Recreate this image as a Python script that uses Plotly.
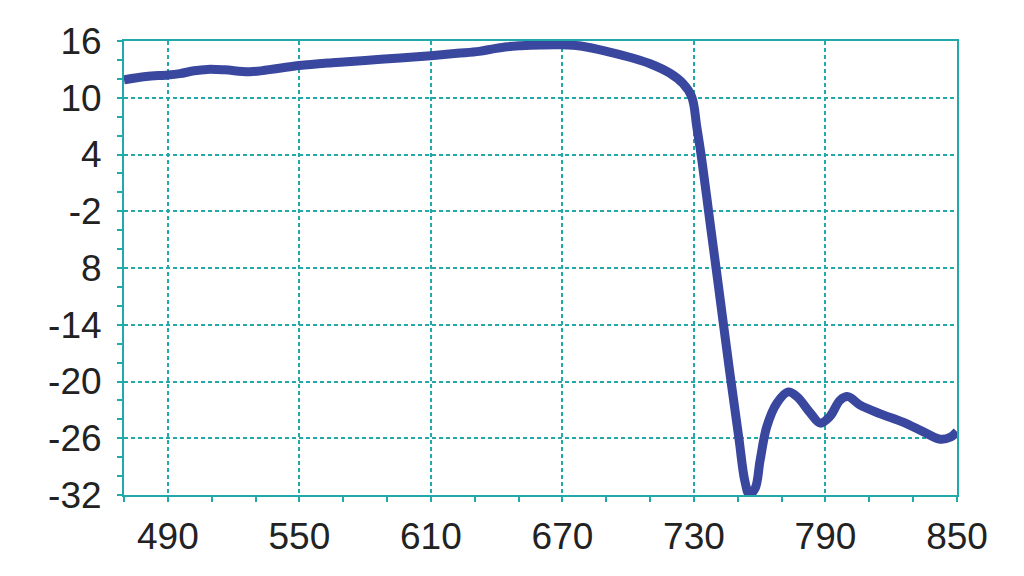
import plotly.graph_objects as go

# Data
wavelength = [470, 480, 490, 495.5, 502, 508, 516, 527.5, 540, 550, 565, 580, 596, 610, 622, 632,
              639, 645, 651, 660, 669, 679, 692, 702, 710, 719, 725, 729.0, 731.3, 733.6,
              737.4, 741.0, 746.5, 750.5, 753.2, 755.2, 757.9, 760.2, 763.2, 767.8,
              773, 777, 783, 787.6, 792, 796.7, 800.3, 805.8, 816, 825.4, 834.5, 842.3, 846.9, 850]
response = [11.9, 12.25, 12.4, 12.55, 12.85, 13.0, 12.95, 12.75, 13.1, 13.4, 13.7, 13.95, 14.2,
            14.45, 14.7, 14.9, 15.2, 15.4, 15.5, 15.58, 15.6, 15.45, 14.8, 14.2, 13.6, 12.6,
            11.5, 10.1, 6.9, 3.4, -3.3, -9.6, -19.3, -26.0, -30.5, -31.9, -31.3, -28.3, -24.8,
            -22.3, -21.1, -21.6, -23.3, -24.4, -23.7, -21.96, -21.6,
            -22.5, -23.5, -24.3, -25.3, -26.1, -25.9, -25.3]

x_ticks = [490, 550, 610, 670, 730, 790, 850]
x_labels = ["490", "550", "610", "670", "730", "790", "850"]
y_ticks = [16, 10, 4, -2, -8, -14, -20, -26, -32]
y_labels = ["16", "10", "4", "-2", "8", "-14", "-20", "-26", "-32"]

teal = "#22a9a9"
font = dict(family="Liberation Sans, Arial, sans-serif", size=37, color="#222222")

fig = go.Figure()
fig.add_trace(go.Scatter(
    x=wavelength, y=response, mode="lines",
    line=dict(color="#3a479e", width=9, shape="spline", smoothing=1.0),
    hoverinfo="skip", showlegend=False,
))

# page body has an 8px margin, so offset the figure margins accordingly
fig.update_layout(
    width=1024, height=576,
    margin=dict(l=116, r=75, t=33, b=89),
    paper_bgcolor="white", plot_bgcolor="white",
    font=font,
)
fig.update_xaxes(
    range=[470, 850], tickvals=x_ticks, ticktext=x_labels,
    showline=True, linecolor=teal, linewidth=2, mirror=True,
    showgrid=True, gridcolor=teal, gridwidth=1.5, griddash="4px,3px",
    ticks="outside", ticklen=5, tickcolor=teal, tickwidth=1.5,
    minor=dict(tick0=470, dtick=20, ticks="outside", ticklen=5, tickcolor=teal, tickwidth=1.5, showgrid=False),
    zeroline=False, tickfont=font, ticklabelstandoff=3,
)
fig.update_yaxes(
    range=[-32, 16], tickvals=y_ticks, ticktext=y_labels,
    showline=True, linecolor=teal, linewidth=2, mirror=True,
    showgrid=True, gridcolor=teal, gridwidth=1.5, griddash="4px,3px",
    ticks="outside", ticklen=5, tickcolor=teal, tickwidth=1.5,
    minor=dict(tick0=-32, dtick=2, ticks="outside", ticklen=5, tickcolor=teal, tickwidth=1.5, showgrid=False),
    zeroline=False, tickfont=font, ticklabelstandoff=8,
)

fig.write_html("out.html")
